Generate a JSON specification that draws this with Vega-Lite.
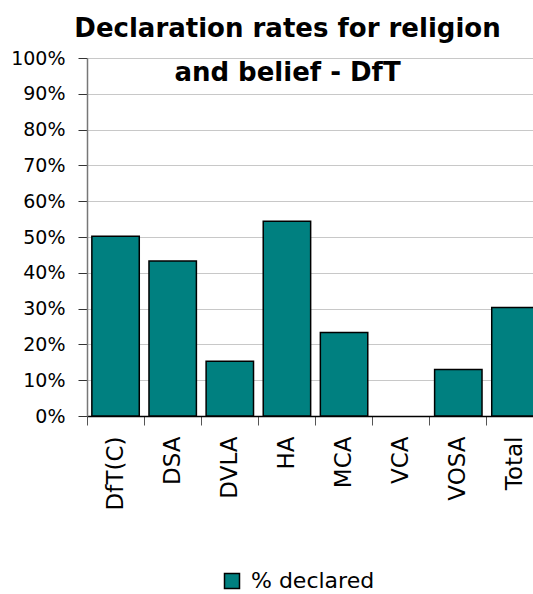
{
  "$schema": "https://vega.github.io/schema/vega-lite/v6.json",
  "autosize": "none",
  "width": 457,
  "height": 358,
  "padding": {"left": 87, "top": 58, "right": 0, "bottom": 178},
  "background": "white",
  "config": {"view": {"stroke": null}},
  "title": {
    "text": ["Declaration rates for religion", "and belief - DfT"],
    "font": "DejaVu Sans",
    "fontSize": 26,
    "fontWeight": "bold",
    "color": "black",
    "lineHeight": 44,
    "anchor": "middle",
    "dx": -28,
    "offset": -37
  },
  "data": {
    "values": [
      {"unit": "DfT(C)", "series": "% declared", "value": 0.502},
      {"unit": "DSA", "series": "% declared", "value": 0.433},
      {"unit": "DVLA", "series": "% declared", "value": 0.153},
      {"unit": "HA", "series": "% declared", "value": 0.544},
      {"unit": "MCA", "series": "% declared", "value": 0.233},
      {"unit": "VCA", "series": "% declared", "value": null},
      {"unit": "VOSA", "series": "% declared", "value": 0.13},
      {"unit": "Total", "series": "% declared", "value": 0.303}
    ]
  },
  "mark": {"type": "bar", "width": {"band": 0.83}, "stroke": "black", "strokeWidth": 1.5, "clip": false},
  "encoding": {
    "x": {
      "field": "unit",
      "type": "nominal",
      "sort": null,
      "scale": {"domain": ["DfT(C)", "DSA", "DVLA", "HA", "MCA", "VCA", "VOSA", "Total"], "paddingInner": 0, "paddingOuter": 0},
      "axis": {
        "title": null,
        "bandPosition": 0,
        "labelAngle": -90,
        "labelAlign": "right",
        "labelBaseline": "middle",
        "labelFont": "DejaVu Sans",
        "labelFontSize": 23,
        "labelColor": "black",
        "labelPadding": 11,
        "labelOffset": 0,
        "tickSize": 9,
        "tickColor": "#555555",
        "domainColor": "black",
        "domainWidth": 1.5,
        "grid": false
      }
    },
    "y": {
      "field": "value",
      "type": "quantitative",
      "scale": {"domain": [0, 1], "nice": false},
      "axis": {
        "title": null,
        "format": ".0%",
        "values": [0, 0.1, 0.2, 0.3, 0.4, 0.5, 0.6, 0.7, 0.8, 0.9, 1],
        "labelFont": "DejaVu Sans",
        "labelFontSize": 19,
        "labelColor": "black",
        "labelPadding": 13,
        "tickSize": 9,
        "tickColor": "#333333",
        "domainColor": "#777777",
        "domainWidth": 1.5,
        "grid": true,
        "gridColor": "#c8c8c8",
        "gridWidth": 1
      }
    },
    "color": {
      "field": "series",
      "type": "nominal",
      "scale": {"range": ["#008080"]},
      "legend": {
        "title": null,
        "orient": "none",
        "legendX": 134,
        "legendY": 512,
        "symbolType": "square",
        "symbolSize": 225,
        "symbolStrokeColor": "black",
        "symbolStrokeWidth": 1.5,
        "symbolFillColor": "#008080",
        "labelFont": "DejaVu Sans",
        "labelFontSize": 22,
        "labelColor": "black",
        "labelOffset": 8
      }
    }
  }
}
